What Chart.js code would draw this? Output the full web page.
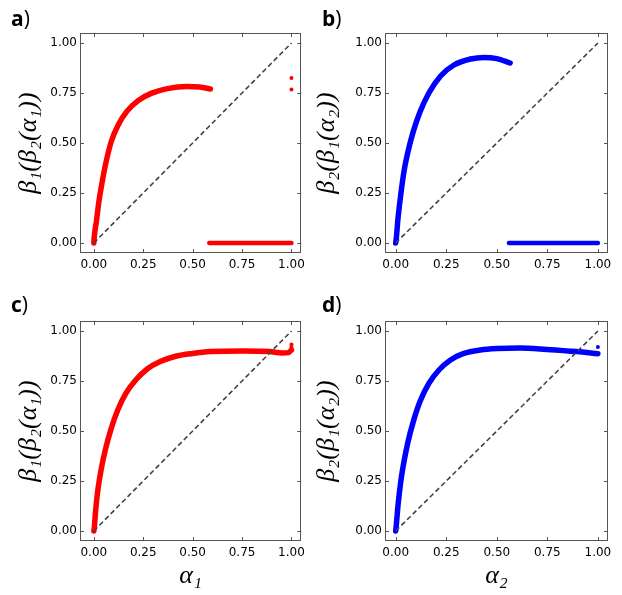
<!DOCTYPE html>
<html>
<head>
<meta charset="utf-8">
<script src="https://cdn.jsdelivr.net/npm/chart.js@4.4.1/dist/chart.umd.min.js"></script>
<style>
  body { margin: 0; background: #fff; }
  #wrap { position: relative; width: 622px; height: 595px; overflow: hidden; }
  canvas { position: absolute; }
  .tag { position: absolute; font-family: "Open Sans", sans-serif; font-size: 21px; line-height: 21px; color: #000; }
  .tag b { font-weight: 700; }
</style>
</head>
<body>
<div id="wrap">
  <canvas id="pa" width="310" height="290" style="left:0;top:0"></canvas>
  <canvas id="pb" width="312" height="290" style="left:310px;top:0"></canvas>
  <canvas id="pc" width="310" height="305" style="left:0;top:290px"></canvas>
  <canvas id="pd" width="312" height="305" style="left:310px;top:290px"></canvas>
  <div class="tag" style="left:11px;top:8px"><b>a</b>)</div>
  <div class="tag" style="left:322px;top:8px"><b>b</b>)</div>
  <div class="tag" style="left:11px;top:294px"><b>c</b>)</div>
  <div class="tag" style="left:322px;top:294px"><b>d</b>)</div>
</div>
<script>
// ==== Data ====
const tickValues = [0, 0.25, 0.5, 0.75, 1];
const diagX = [0, 1];
const diagY = [0, 1];

// panel a
const aCurveX = [0, 0.002, 0.013, 0.026, 0.043, 0.063, 0.089, 0.122, 0.166, 0.224, 0.29, 0.372, 0.47, 0.536, 0.59];
const aCurveY = [0, 0.03, 0.108, 0.21, 0.31, 0.41, 0.51, 0.588, 0.657, 0.712, 0.748, 0.772, 0.783, 0.78, 0.77];
const aZeroX = [0.584, 1.0];
const aZeroY = [0, 0];
const aDotX = [1.0, 1.0];
const aDotY = [0.825, 0.767];

// panel b
const bCurveX = [0, 0.003, 0.0115, 0.025, 0.041, 0.061, 0.087, 0.12, 0.164, 0.222, 0.288, 0.37, 0.436, 0.5, 0.566];
const bCurveY = [0, 0.025, 0.125, 0.242, 0.358, 0.458, 0.558, 0.655, 0.75, 0.835, 0.89, 0.92, 0.928, 0.922, 0.9];
const bZeroX = [0.56, 1.0];
const bZeroY = [0, 0];

// panel c
const cCurveX = [0, 0.002, 0.01, 0.0215, 0.038, 0.06, 0.088, 0.121, 0.162, 0.212, 0.27, 0.336, 0.419, 0.5, 0.59, 0.756, 0.888, 0.954, 0.985, 1.0];
const cCurveY = [0, 0.013, 0.113, 0.213, 0.313, 0.413, 0.513, 0.605, 0.688, 0.755, 0.81, 0.847, 0.875, 0.888, 0.897, 0.9, 0.897, 0.89, 0.892, 0.905];
const cDotX = [1.0, 1.0];
const cDotY = [0.918, 0.932];

// panel d
const dCurveX = [0, 0.003, 0.0115, 0.025, 0.041, 0.061, 0.087, 0.12, 0.164, 0.214, 0.271, 0.337, 0.419, 0.5, 0.615, 0.747, 0.896, 1.0];
const dCurveY = [0, 0.03, 0.13, 0.247, 0.347, 0.447, 0.547, 0.647, 0.738, 0.805, 0.855, 0.888, 0.905, 0.912, 0.915, 0.908, 0.897, 0.886];
const dDotX = [1.0];
const dDotY = [0.92];

const RED = "#ff0000";
const BLUE = "#0000ff";

function pts(xs, ys) {
  return xs.map((x, i) => ({ x: x, y: ys[i] }));
}

// frame + inward ticks on all four sides (matplotlib look)
const framePlugin = {
  id: "frame",
  afterDraw(chart) {
    const { ctx, chartArea: a, scales } = chart;
    ctx.save();
    ctx.strokeStyle = "#555";
    ctx.lineWidth = 1;
    ctx.strokeRect(Math.round(a.left) + 0.5, Math.round(a.top) + 0.5,
      Math.round(a.right - a.left) - 1, Math.round(a.bottom - a.top) - 1);
    const len = 4;
    ctx.beginPath();
    tickValues.forEach((v) => {
      const px = Math.round(scales.x.getPixelForValue(v)) + 0.5;
      ctx.moveTo(px, a.bottom); ctx.lineTo(px, a.bottom - len);
      ctx.moveTo(px, a.top); ctx.lineTo(px, a.top + len);
      const py = Math.round(scales.y.getPixelForValue(v)) + 0.5;
      ctx.moveTo(a.left, py); ctx.lineTo(a.left + len, py);
      ctx.moveTo(a.right, py); ctx.lineTo(a.right - len, py);
    });
    ctx.stroke();
    ctx.restore();
  },
};

function makePanel(id, opt) {
  const datasets = [
    {
      data: pts(diagX, diagY),
      showLine: true,
      borderColor: "#444",
      borderWidth: 1.6,
      borderDash: [5, 3],
      pointRadius: 0,
    },
    {
      data: pts(opt.curveX, opt.curveY),
      showLine: true,
      borderColor: opt.color,
      borderWidth: 5.5,
      borderCapStyle: "round",
      borderJoinStyle: "round",
      cubicInterpolationMode: "monotone",
      pointRadius: 0,
    },
  ];
  if (opt.zeroX) {
    datasets.push({
      data: pts(opt.zeroX, opt.zeroY),
      showLine: true,
      borderColor: opt.color,
      borderWidth: 4.5,
      borderCapStyle: "round",
      pointRadius: 0,
    });
  }
  if (opt.dotX) {
    datasets.push({
      data: pts(opt.dotX, opt.dotY),
      showLine: false,
      pointRadius: 2,
      pointBorderWidth: 0,
      backgroundColor: opt.color,
      borderColor: opt.color,
    });
  }

  const tickFont = { family: "DejaVu Sans", size: 12 };
  const titleFont = { family: "Liberation Serif", size: 26, style: "italic" };

  new Chart(document.getElementById(id), {
    type: "scatter",
    data: { datasets: datasets },
    plugins: [framePlugin],
    options: {
      responsive: false,
      animation: false,
      layout: { padding: { left: 0, bottom: 0, top: opt.padTop, right: opt.padRight } },
      plugins: { legend: { display: false }, tooltip: { enabled: false } },
      scales: {
        x: {
          type: "linear",
          min: opt.xMin,
          max: 1.05,
          afterBuildTicks: (s) => { s.ticks = tickValues.map((v) => ({ value: v })); },
          afterFit: (s) => { s.height = opt.xAxisH; },
          grid: { display: false, drawTicks: false },
          border: { display: false },
          ticks: { font: tickFont, color: "#000", padding: 5, maxRotation: 0,
                   callback: (v) => Number(v).toFixed(2) },
          title: {
            display: !!opt.xTitle,
            text: opt.xTitle || "",
            font: titleFont,
            color: "#000",
            padding: { top: 0, bottom: 3 },
          },
        },
        y: {
          type: "linear",
          min: -0.05,
          max: 1.05,
          afterBuildTicks: (s) => { s.ticks = tickValues.map((v) => ({ value: v })); },
          afterFit: (s) => { s.width = opt.yAxisW; },
          grid: { display: false, drawTicks: false },
          border: { display: false },
          ticks: { font: tickFont, color: "#000", padding: 3,
                   callback: (v) => Number(v).toFixed(2) },
          title: {
            display: true,
            text: opt.yTitle,
            font: titleFont,
            color: "#000",
            padding: { top: opt.yTitlePad, bottom: 0 },
          },
        },
      },
    },
  });
}

makePanel("pa", {
  color: RED, curveX: aCurveX, curveY: aCurveY, zeroX: aZeroX, zeroY: aZeroY, dotX: aDotX, dotY: aDotY,
  xMin: -0.07, yAxisW: 80, padTop: 33, padRight: 4, xAxisH: 37, yTitlePad: 14,
  yTitle: "β₁(β₂(α₁))",
});
makePanel("pb", {
  color: BLUE, curveX: bCurveX, curveY: bCurveY, zeroX: bZeroX, zeroY: bZeroY,
  xMin: -0.053, yAxisW: 75, padTop: 33, padRight: 14, xAxisH: 37, yTitlePad: 2,
  yTitle: "β₂(β₁(α₂))",
});
makePanel("pc", {
  color: RED, curveX: cCurveX, curveY: cCurveY, dotX: cDotX, dotY: cDotY,
  xMin: -0.07, yAxisW: 80, padTop: 31, padRight: 4, xAxisH: 54, yTitlePad: 14,
  yTitle: "β₁(β₂(α₁))", xTitle: "α₁",
});
makePanel("pd", {
  color: BLUE, curveX: dCurveX, curveY: dCurveY, dotX: dDotX, dotY: dDotY,
  xMin: -0.053, yAxisW: 75, padTop: 31, padRight: 14, xAxisH: 54, yTitlePad: 2,
  yTitle: "β₂(β₁(α₂))", xTitle: "α₂",
});
</script>
</body>
</html>
